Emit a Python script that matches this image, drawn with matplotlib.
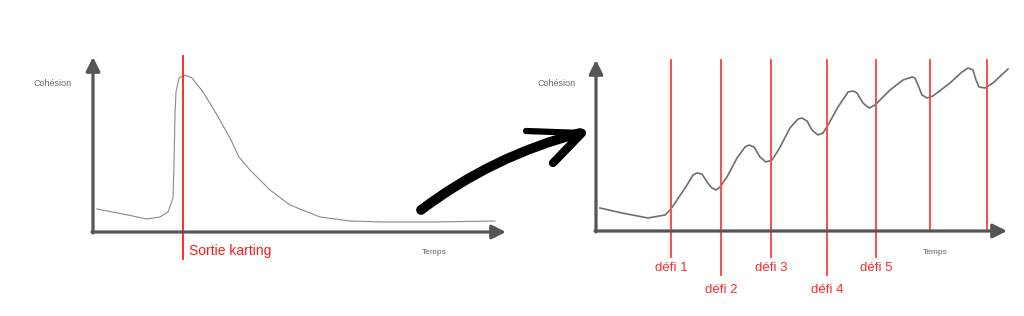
import matplotlib
matplotlib.use("Agg")
from matplotlib import pyplot as plt

plt.rcParams['font.family'] = ['Liberation Sans', 'DejaVu Sans']

# courbe 1 : cohésion avant / après la sortie karting
t_karting = [4, 30, 54, 67, 75, 80, 81, 82, 83, 86, 92, 99, 110, 124, 137, 146,
             157, 177, 197, 217, 227, 257, 290, 340, 402]
c_karting = [23, 18, 13, 15, 20, 34, 67, 117, 140, 154, 157, 154, 140, 117, 94, 75,
             62, 42, 27, 19, 15, 11, 10, 10, 11]
event_karting = 90

# courbe 2 : cohésion avec des défis réguliers
t_defis = [4, 26, 52, 69, 75, 81, 91, 97, 101, 106, 111, 116, 120, 124, 131, 141,
           149, 153, 158, 164, 170, 176, 183, 194, 202, 206, 211, 216, 222, 227,
           232, 242, 252, 257, 261, 267, 273, 279, 284, 294, 307, 316, 319, 322,
           326, 331, 337, 354, 366, 372, 377, 380, 383, 389, 397, 412]
c_defis = [23, 18, 13, 16, 22, 31, 46, 56, 58, 57, 49, 43, 41, 44, 54, 73,
           84, 86, 84, 74, 69, 71, 82, 103, 112, 113, 110, 101, 96, 98,
           106, 124, 139, 140, 138, 128, 123, 126, 131, 141, 151, 154, 153, 146,
           136, 133, 135, 148, 159, 163, 161, 151, 144, 143, 148, 162]
defi_times = [75, 125, 175, 231, 280, 334, 391]
defi_labels = ['défi 1', 'défi 2', 'défi 3', 'défi 4', 'défi 5', '', '']

AXIS = '#555555'
W, H = 1024, 316

fig = plt.figure(figsize=(W / 100, H / 100), dpi=100)


def make_panel(x0, y0):
    # 1 unité = 1 pixel, origine au coin des axes dessinés
    ax = fig.add_axes([0, 0, 1, 1])
    ax.set_xlim(-x0, W - x0)
    ax.set_ylim(y0 - H, y0)
    ax.set_facecolor('none')
    ax.axis('off')
    return ax


def draw_axes(ax, xmax, ymax):
    kw = dict(arrowstyle='-|>,head_length=0.7,head_width=0.35', lw=2.3,
              color=AXIS, mutation_scale=12, shrinkA=0, shrinkB=0)
    ax.annotate('', xy=(0, ymax), xytext=(0, -1), arrowprops=kw)
    ax.annotate('', xy=(xmax, 0), xytext=(-1, 0), arrowprops=kw)


# panneau gauche
ax1 = make_panel(93, 232)
ax1.plot(t_karting, c_karting, color='#8a8a8a', lw=0.8, solid_joinstyle='round')
ax1.plot([event_karting, event_karting], [176, -27], color='#ff1a1a', lw=1.3)
ax1.text(event_karting + 6, -19, 'Sortie karting', color='#ff1a1a', fontsize=10,
         va='center', ha='left')
draw_axes(ax1, 413, 175)
ax1.text(-40, 149, 'Cohésion', fontsize=6.5, color='#666666', ha='center', va='center')
ax1.text(341, -20, 'Temps', fontsize=6, color='#666666', ha='center', va='center')

# panneau droit
ax2 = make_panel(596, 231)
ax2.plot(t_defis, c_defis, color='#6e6e6e', lw=1.2, solid_joinstyle='round')
for i, (t, lab) in enumerate(zip(defi_times, defi_labels)):
    if lab:
        low = -26 if i % 2 == 0 else -44
    else:
        low = 0
    ax2.plot([t, t], [171, low], color='#ff4d4d', lw=1.4)
    if lab:
        ax2.text(t, -37 if i % 2 == 0 else -59, lab, color='#ff2a2a', fontsize=9.5,
                 ha='center', va='center')
draw_axes(ax2, 411, 171)
ax2.text(-39, 148, 'Cohésion', fontsize=6.5, color='#666666', ha='center', va='center')
ax2.text(339, -21, 'Temps', fontsize=6, color='#666666', ha='center', va='center')

# flèche au pinceau entre les deux graphiques
deco = fig.add_axes([0, 0, 1, 1])
deco.set_xlim(0, W)
deco.set_ylim(H, 0)
deco.set_facecolor('none')
deco.axis('off')
deco.annotate('', xy=(580, 133), xytext=(421, 210),
              arrowprops=dict(arrowstyle='-', lw=7, color='black', capstyle='round',
                              connectionstyle='arc3,rad=-0.1', shrinkA=0, shrinkB=0))
deco.plot([582, 526], [133, 131], color='black', lw=4.5, solid_capstyle='round')
deco.plot([582, 553], [133, 163], color='black', lw=6, solid_capstyle='round')

fig.savefig('out.png', dpi=100)
